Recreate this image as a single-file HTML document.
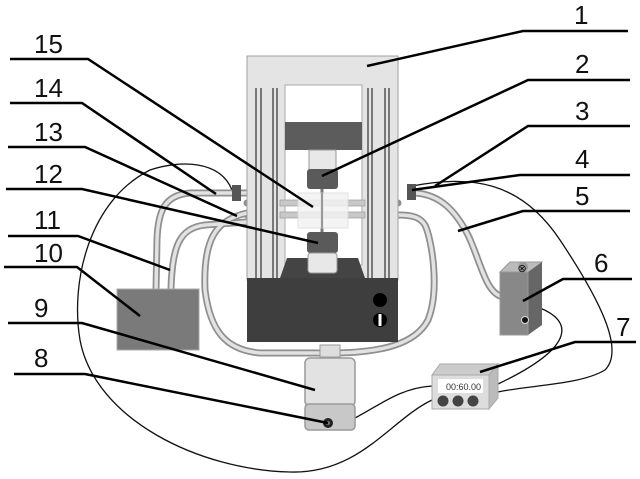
<!DOCTYPE html>
<html><head><meta charset="utf-8"><style>
html,body{margin:0;padding:0;background:#fff}
svg{display:block}
text{font-family:"Liberation Sans",sans-serif;font-size:26px;fill:#111}
</style></head><body>
<svg width="640" height="479" viewBox="0 0 640 479" xmlns="http://www.w3.org/2000/svg">
<!-- thin wires -->
<g fill="none" stroke="#111" stroke-width="1.3">
<path d="M232,190 C220,160 180,160 150,170 C90,200 70,280 80,340 C95,420 200,470 290,472 C360,474 390,420 432,400"/>
<path d="M355,418 C380,405 400,388 432,386"/>
<path d="M412,186 C470,175 520,180 560,240 C600,300 625,350 605,370 C580,385 530,385 498,392"/>
<path d="M540,308 C570,320 580,345 498,384"/>
</g>
<!-- tubes -->
<g fill="none" stroke-linecap="round">
<g stroke="#8f8f8f" stroke-width="7">
<path d="M247,193 L190,193 C165,195 158,210 157,240 L156,290"/>
<path d="M247,222 L205,225 C180,228 172,245 171,290"/>
<path d="M247,213 C215,220 203,240 205,290 C210,330 225,350 260,353 L322,353"/>
<path d="M338,353 C380,352 415,345 428,320 C440,290 432,240 425,225 C420,217 412,215 398,215"/>
<path d="M416,193 C440,195 455,210 468,235 C480,260 485,290 500,296"/>
<path d="M365,203 L398,203 M280,203 L247,203 M280,215 L247,215 M365,215 L398,215"/>
</g>
<g stroke="#e2e2e2" stroke-width="3.5">
<path d="M247,193 L190,193 C165,195 158,210 157,240 L156,290"/>
<path d="M247,222 L205,225 C180,228 172,245 171,290"/>
<path d="M247,213 C215,220 203,240 205,290 C210,330 225,350 260,353 L322,353"/>
<path d="M338,353 C380,352 415,345 428,320 C440,290 432,240 425,225 C420,217 412,215 398,215"/>
<path d="M416,193 C440,195 455,210 468,235 C480,260 485,290 500,296"/>
</g>
</g>
<!-- frame -->
<rect x="247" y="56" width="151" height="224" fill="#e4e4e4" stroke="#a0a0a0"/>
<rect x="285" y="85" width="77" height="180" fill="#fff" stroke="#aaa"/>
<g stroke="#555" stroke-width="1.5">
<line x1="256" y1="88" x2="256" y2="278"/><line x1="261" y1="88" x2="261" y2="278"/>
<line x1="273" y1="88" x2="273" y2="278"/><line x1="277" y1="88" x2="277" y2="278"/>
<line x1="368" y1="88" x2="368" y2="278"/><line x1="372" y1="88" x2="372" y2="278"/>
<line x1="385" y1="88" x2="385" y2="278"/><line x1="389" y1="88" x2="389" y2="278"/>
</g>
<rect x="285" y="122" width="77" height="28" fill="#5c5c5c"/>
<!-- rods through window -->
<rect x="280" y="200" width="85" height="6" fill="#c8c8c8" stroke="#999" stroke-width="0.7"/>
<rect x="280" y="212" width="85" height="6" fill="#c8c8c8" stroke="#999" stroke-width="0.7"/>
<!-- grips -->
<rect x="309" y="150" width="27" height="20" fill="#e8e8e8" stroke="#999"/>
<rect x="307" y="169" width="31" height="20" rx="3" fill="#5a5a5a"/>
<line x1="322" y1="189" x2="322" y2="234" stroke="#777" stroke-width="3"/>
<rect x="298" y="193" width="50" height="35" fill="#f3f3f3" opacity="0.85" stroke="#ddd"/>
<line x1="322" y1="193" x2="322" y2="228" stroke="#999" stroke-width="2"/>
<rect x="307" y="232" width="31" height="21" rx="3" fill="#5a5a5a"/>
<polygon points="280,278 287,258 358,258 365,278" fill="#444"/>
<rect x="308" y="253" width="29" height="20" rx="3" fill="#e8e8e8" stroke="#999"/>
<!-- base -->
<rect x="247" y="278" width="151" height="64" fill="#3e3e3e"/>
<circle cx="380" cy="300" r="7" fill="#000"/>
<circle cx="380" cy="320" r="7" fill="#000"/>
<rect x="378.5" y="314" width="3" height="12" fill="#fff"/>
<!-- ports -->
<rect x="232" y="185" width="9" height="16" fill="#555"/>
<rect x="407" y="184" width="9" height="16" fill="#555"/>
<!-- box 10 -->
<rect x="117" y="289" width="82" height="61" fill="#7a7a7a" stroke="#aaa"/>
<!-- pump 9 -->
<rect x="320" y="345" width="20" height="12" fill="#ddd" stroke="#999"/>
<rect x="305" y="358" width="50" height="48" rx="5" fill="#e2e2e2" stroke="#999" stroke-width="1.5"/>
<rect x="305" y="404" width="50" height="26" rx="4" fill="#c8c8c8" stroke="#999" stroke-width="1.5"/>
<circle cx="328" cy="423" r="5" fill="#222"/><circle cx="328" cy="423" r="2" fill="#777"/>
<!-- box 6 -->
<polygon points="500,272 510,262 542,262 532,272" fill="#bbb" stroke="#999"/>
<polygon points="528,272 542,262 542,325 528,335" fill="#666"/>
<rect x="500" y="272" width="28" height="63" fill="#888" stroke="#999"/>
<circle cx="523" cy="267" r="5" fill="#999"/>
<text x="517.5" y="272" style="font-size:11px">⊗</text>
<circle cx="525" cy="320" r="3.5" fill="#111" stroke="#ddd"/>
<!-- timer 7 -->
<polygon points="432,375 440,364 498,364 489,375" fill="#ccc" stroke="#aaa"/>
<polygon points="489,375 498,364 498,398 489,409" fill="#bbb" stroke="#aaa"/>
<rect x="432" y="375" width="57" height="34" fill="#ddd" stroke="#aaa"/>
<rect x="438" y="379" width="45" height="14" fill="#fff"/>
<text x="446" y="390" style="font-size:9px;fill:#333">00:60.00</text>
<circle cx="443" cy="401" r="5.5" fill="#444"/><circle cx="458" cy="401" r="5.5" fill="#444"/><circle cx="473" cy="401" r="5.5" fill="#444"/>
<!-- leader lines -->
<g fill="none" stroke="#000" stroke-width="2.5">
<path d="M10,59 L88,59 L313,207"/>
<path d="M10,103 L82,103 L216,194"/>
<path d="M8,147 L85,147 L237,216"/>
<path d="M6,189 L82,189 L318,243"/>
<path d="M8,236 L78,236 L170,270"/>
<path d="M4,267 L77,267 L140,316"/>
<path d="M8,323 L82,323 L315,390"/>
<path d="M14,374 L85,374 L328,423"/>
<path d="M628,31 L523,31 L367,66"/>
<path d="M630,80 L528,80 L322,176"/>
<path d="M630,126 L528,126 L435,186"/>
<path d="M630,175 L520,175 L412,190"/>
<path d="M630,211 L523,211 L458,231"/>
<path d="M632,279 L563,279 L523,301"/>
<path d="M636,342 L575,342 L480,372"/>
</g>
<!-- labels -->
<text x="34" y="53">15</text>
<text x="34" y="97">14</text>
<text x="34" y="141">13</text>
<text x="34" y="183">12</text>
<text x="34" y="229">11</text>
<text x="34" y="262">10</text>
<text x="34" y="317">9</text>
<text x="34" y="367">8</text>
<text x="574" y="24">1</text>
<text x="575" y="73">2</text>
<text x="575" y="120">3</text>
<text x="575" y="168">4</text>
<text x="575" y="205">5</text>
<text x="594" y="272">6</text>
<text x="616" y="336">7</text>
</svg>
</body></html>
